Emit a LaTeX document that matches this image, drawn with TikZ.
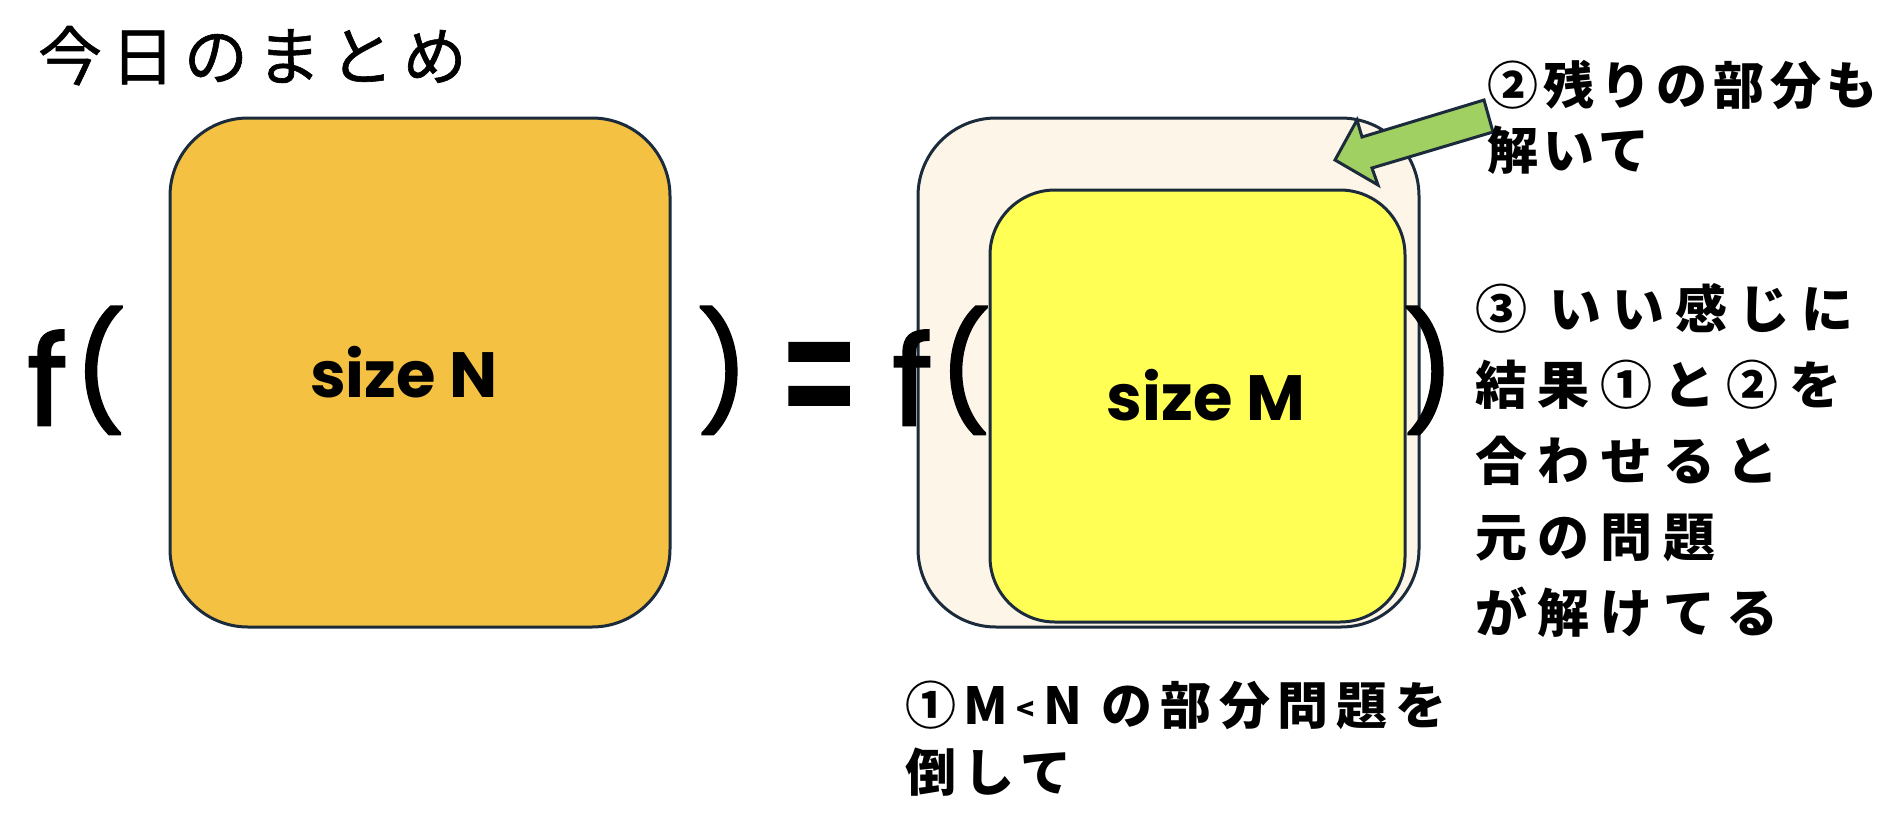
\documentclass[tikz,border=0pt]{standalone}
\usepackage{fontspec}
\newfontfamily\jp{Noto Sans CJK JP}
\newfontfamily\lat{Poppins}
\definecolor{orangeN}{HTML}{F4C142}
\definecolor{cream}{HTML}{FDF6E8}
\definecolor{yellowM}{HTML}{FFFF55}
\definecolor{arrowgreen}{HTML}{A0CF62}
\definecolor{edge}{HTML}{1B2B3B}
\newcommand{\fsym}{{\fontsize{62pt}{62pt}\selectfont f}\hspace{3pt}\raisebox{6pt}{\fontsize{57pt}{57pt}\selectfont(}}
\begin{document}
\begin{tikzpicture}[x=0.5pt,y=-0.5pt,
  box/.style={draw=edge, line width=1.5pt, rounded corners=39pt, inner sep=0pt, outer sep=0pt, anchor=north west},
  jtext/.style={anchor=base west, inner sep=0pt, outer sep=0pt, align=left},
  sym/.style={anchor=base west, inner sep=0pt, outer sep=0pt, font=\lat\addfontfeature{FakeBold=2}\fontsize{57pt}{57pt}\selectfont},
  lbl/.style={font=\lat\bfseries\fontsize{32pt}{32pt}\selectfont}
]
\useasboundingbox[fill=white] (0,0) rectangle (1890,836);

\node[jtext, font=\jp\addfontfeature{LetterSpace=14,FakeBold=1}\fontsize{32pt}{32pt}\selectfont] (title) at (38,80) {今日のまとめ};

\node[box, fill=orangeN, minimum width=250pt, minimum height=254.5pt, lbl] (boxN) at (170,118) {\raisebox{-12.5pt}[0pt][0pt]{size N}\hspace*{16pt}};
\node[box, fill=cream, minimum width=250.5pt, minimum height=254.5pt] (outer) at (918,118) {};
\node[box, fill=yellowM, rounded corners=32.5pt, minimum width=207.5pt, minimum height=216pt, lbl] (boxM) at (990,190) {\hspace*{8.5pt}\raisebox{-7pt}[0pt][0pt]{size M}};

\node[sym] (f1) at (27,425) {\fsym};
\node[sym] (r1) at (697,413) {)};
\node[sym] (eq) at (778,449) {\scalebox{1}[1.8]{=}};
\node[sym] (f2) at (892,425) {\fsym};
\node[sym] (r2) at (1403,413) {)};

\draw[fill=arrowgreen, draw=edge, line width=1.5pt, line join=miter]
  (1335,160) -- (1357,120) -- (1362,137) -- (1484,100) -- (1493,132) -- (1372,168) -- (1378,185) -- cycle;

\node[jtext, font=\jp\bfseries\fontsize{25.5pt}{32.5pt}\selectfont\addfontfeature{LetterSpace=11}] (lab2) at (1487,169) {②残りの部分も\\解いて};

\node[jtext, font=\jp\bfseries\fontsize{26pt}{38pt}\selectfont\addfontfeature{LetterSpace=21}] (lab3) at (1475,632) {③ いい感じに\\結果①と②を\\合わせると\\元の問題\\が解けてる};

\node[jtext, font=\jp\bfseries\fontsize{25.5pt}{33.5pt}\selectfont\addfontfeature{LetterSpace=15}] (lab1) at (905,791) {①M\,\raisebox{2pt}{\fontsize{15pt}{15pt}\selectfont <}\,N の部分問題を\\倒して};
\end{tikzpicture}
\end{document}
